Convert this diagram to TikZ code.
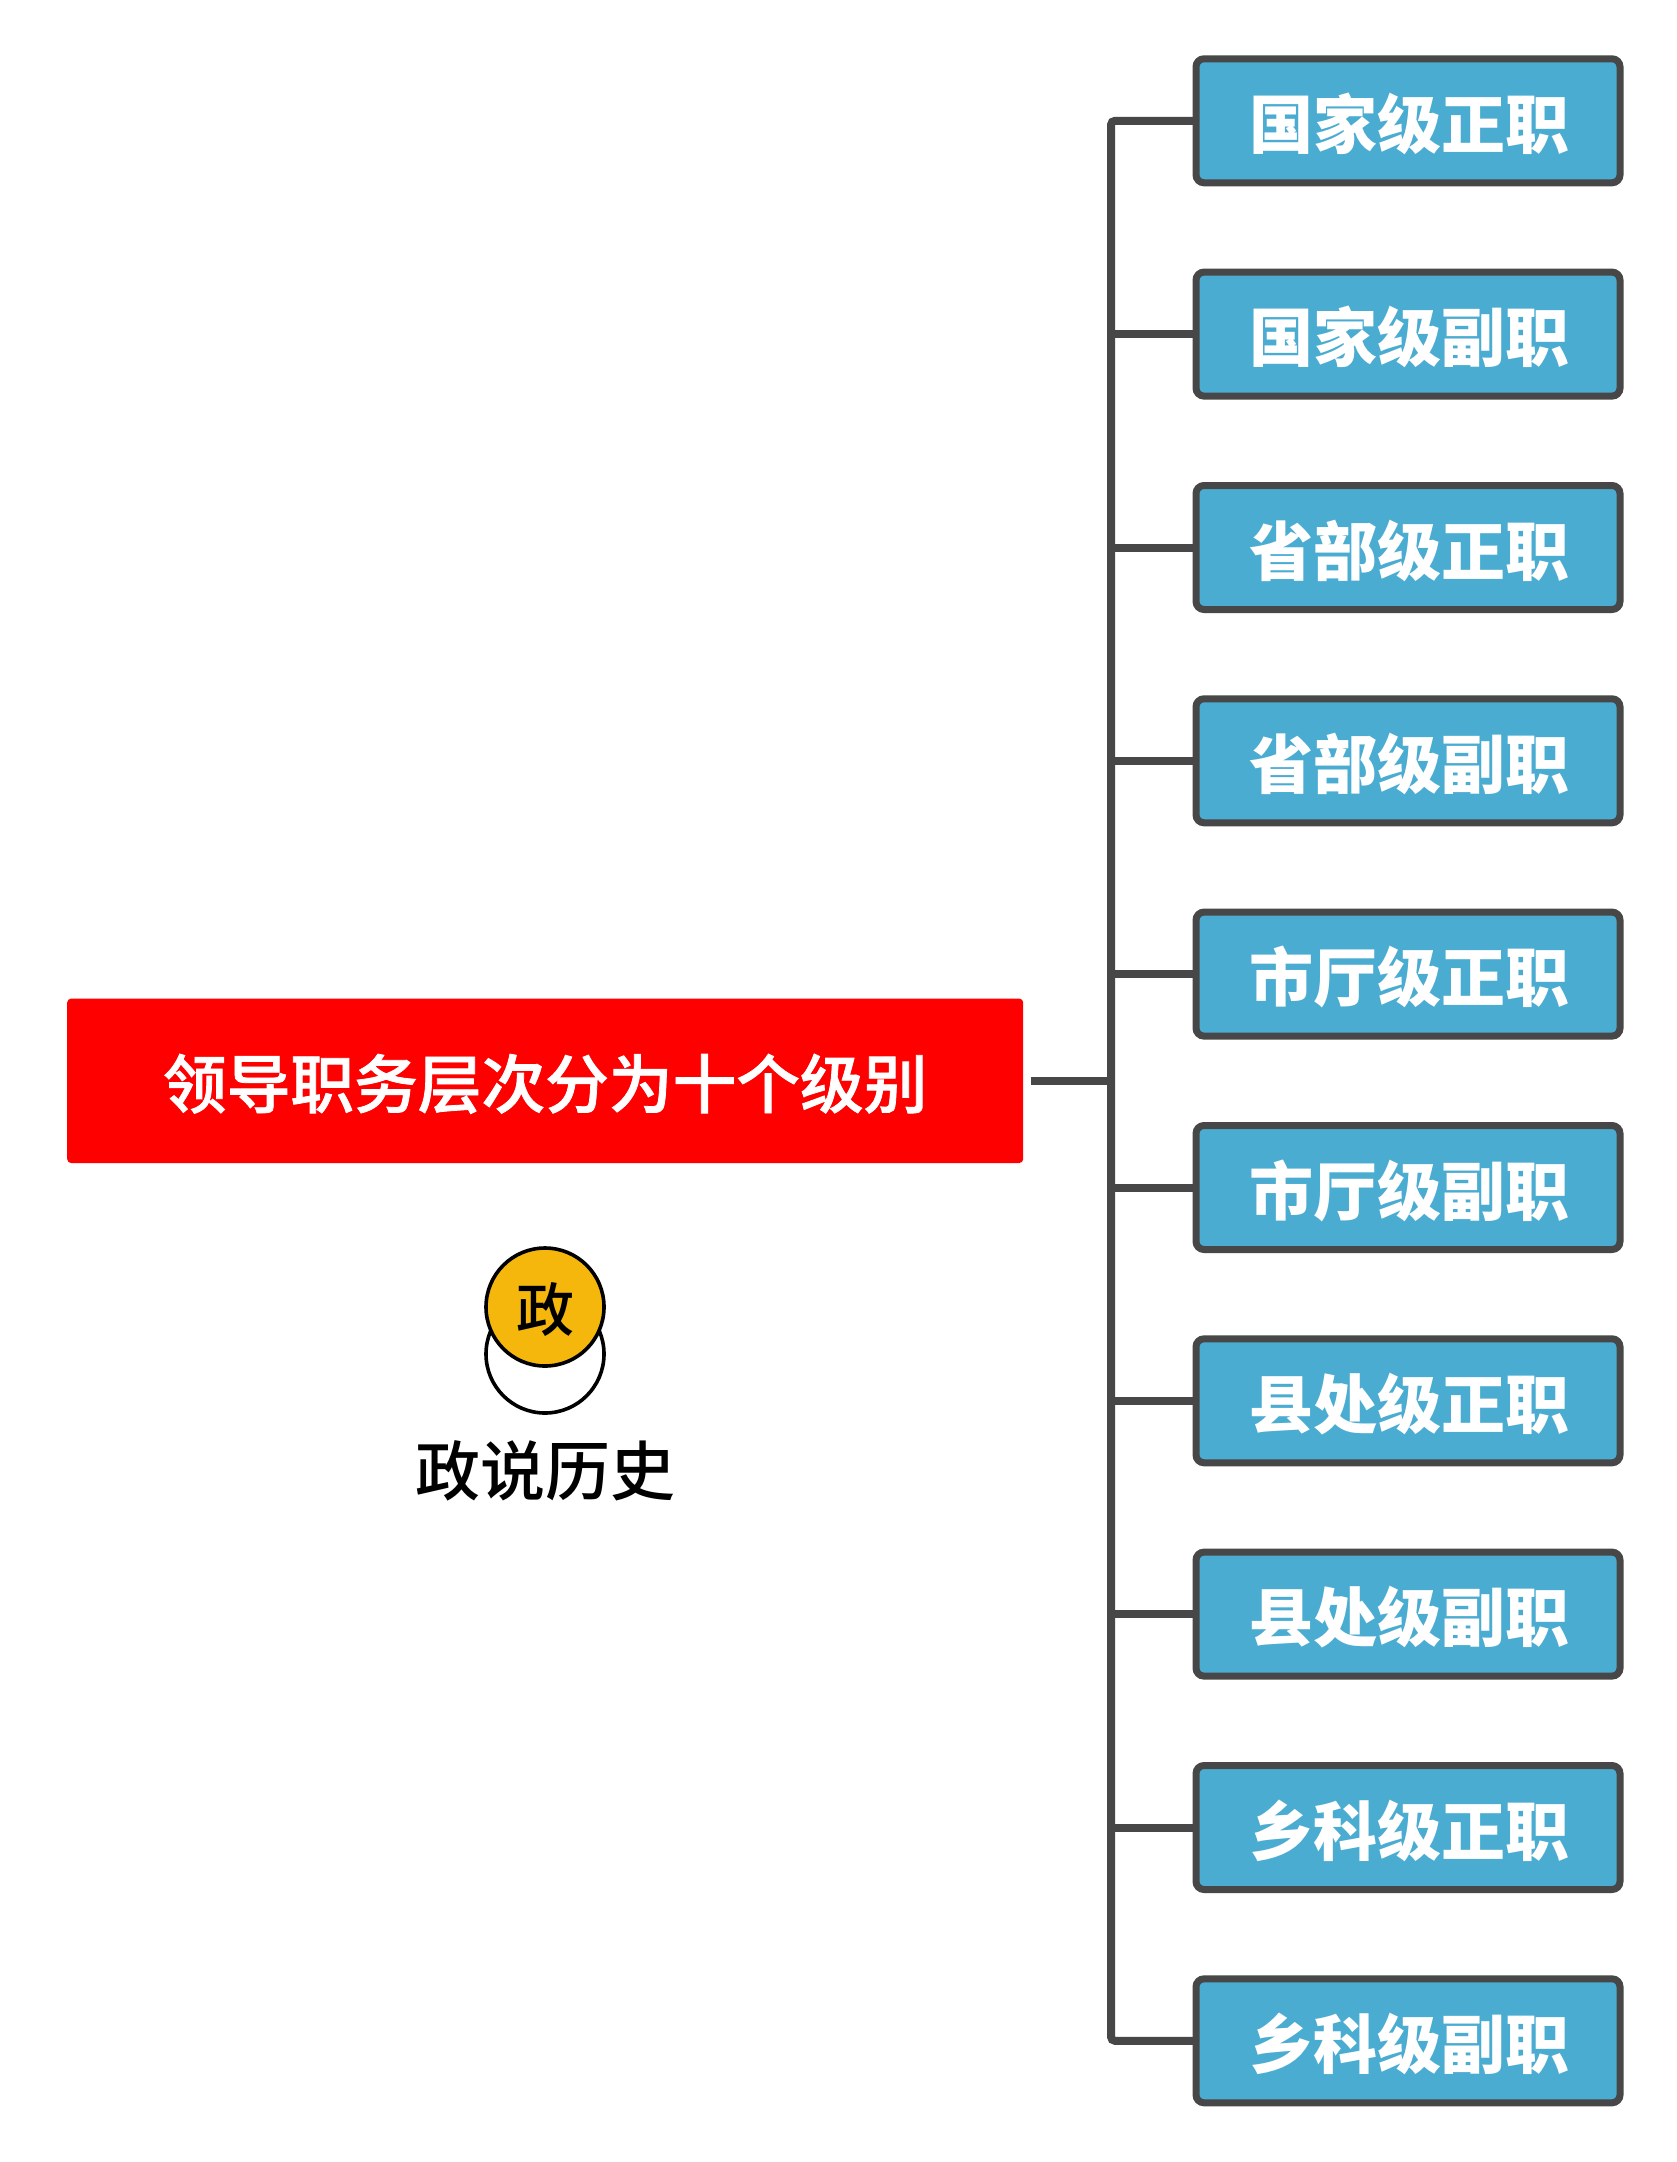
\documentclass[tikz,border=0pt]{standalone}
\usepackage{fontspec}
\setmainfont{Noto Sans CJK SC}[BoldFont={Noto Sans CJK SC Black}]
\newfontfamily\medcjk{Noto Sans CJK SC Medium}
\newfontfamily\rootcjk{Noto Sans CJK SC Medium}[FakeBold=1.2]
\definecolor{linegray}{HTML}{474747}
\definecolor{boxblue}{HTML}{4BACD2}
\definecolor{coinyellow}{HTML}{F5B70C}
\newcommand{\lowered}[1]{\raisebox{-3pt}[\height][\depth]{#1}}
\newcommand{\lvltext}[1]{\hspace*{3.6pt}\lowered{#1}}
\tikzset{
  levelbox/.style={draw=linegray,fill=boxblue,line width=7pt,rounded corners=8pt,
    minimum width=424pt,minimum height=124pt,inner sep=0pt,outer sep=0pt,
    text=white,font=\fontsize{64}{64}\selectfont\bfseries},
  rootbox/.style={fill=red,rounded corners=4pt,minimum width=956pt,minimum height=164.5pt,
    inner sep=0pt,outer sep=0pt,text=white,font=\rootcjk\fontsize{63.7}{64}\selectfont},
  conn/.style={draw=linegray,line width=8pt},
  coin/.style={circle,draw=black,line width=3.6pt,minimum size=118pt,inner sep=0pt,outer sep=0pt},
}
\begin{document}
\begin{tikzpicture}[x=1pt,y=-1pt]
\useasboundingbox (0,0) rectangle (1676,2162);
\fill[white] (0,0) rectangle (1676,2162);
\coordinate (trunk) at (1111,1080.8);
\coordinate (stub) at (1030.6,1080.8);
\node[levelbox] (b1) at (1408,120.8) {\lvltext{国家级正职}};
\node[levelbox] (b2) at (1408,334.1) {\lvltext{国家级副职}};
\node[levelbox] (b3) at (1408,547.5) {\lvltext{省部级正职}};
\node[levelbox] (b4) at (1408,760.8) {\lvltext{省部级副职}};
\node[levelbox] (b5) at (1408,974.1) {\lvltext{市厅级正职}};
\node[levelbox] (b6) at (1408,1187.5) {\lvltext{市厅级副职}};
\node[levelbox] (b7) at (1408,1400.8) {\lvltext{县处级正职}};
\node[levelbox] (b8) at (1408,1614.1) {\lvltext{县处级副职}};
\node[levelbox] (b9) at (1408,1827.5) {\lvltext{乡科级正职}};
\node[levelbox] (b10) at (1408,2040.8) {\lvltext{乡科级副职}};
\node[rootbox] (root) at (545.2,1080.8) {\lowered{领导职务层次分为十个级别}};
\draw[conn,rounded corners=4pt] (b1.west) -- (b1.west -| trunk) -- (b10.west -| trunk) -- (b10.west);
\foreach \n in {b2,b3,b4,b5,b6,b7,b8,b9}{
  \draw[conn] (\n.west) -- (\n.west -| trunk);
}
\draw[conn] (stub) -- (trunk);
\node[coin,fill=white] (coinb) at (545,1354) {};
\node[coin,fill=coinyellow,font=\medcjk\fontsize{58}{58}\selectfont] (coinf) at (545,1307) {\lowered{政}};
\node[font=\medcjk\fontsize{65}{65}\selectfont,text=black,inner sep=0pt] (brand) at (545,1471) {政说历史};
\end{tikzpicture}
\end{document}
